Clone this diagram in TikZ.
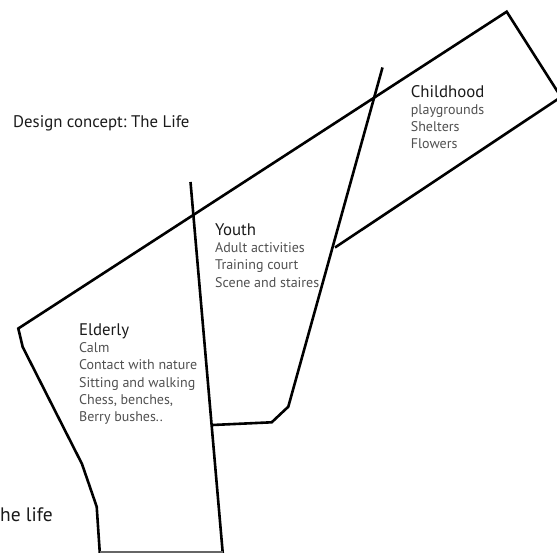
\documentclass[tikz,border=0pt]{standalone}
\usepackage{fontspec}
\setmainfont{PT Sans}
\definecolor{headgray}{HTML}{1A1A1A}
\definecolor{itemgray}{HTML}{505050}
\tikzset{
  zone/.style={line width=2.6pt, line join=miter, black},
  heading/.style={anchor=base west, inner sep=0pt, text=headgray, font=\fontsize{16.8}{17}\selectfont},
  item/.style={anchor=base west, inner sep=0pt, text=itemgray, font=\fontsize{14}{17}\selectfont},
  title/.style={anchor=base west, inner sep=0pt, text=headgray, font=\fontsize{16.8}{17}\selectfont}
}
\begin{document}
\begin{tikzpicture}[x=1pt,y=-1pt]
    \useasboundingbox (0,0) rectangle (557,553);
    % outline of the band and the elderly zone
    \coordinate (E1) at (100,556);
    \coordinate (E2) at (96.7,506.7);
    \coordinate (E3) at (82,464);
    \coordinate (E4) at (22.7,347);
    \coordinate (E5) at (18.3,328.5);
    \coordinate (B1) at (506.7,11.7);
    \coordinate (B2) at (561,97);
    \coordinate (B3) at (335,247.5);
    \begin{scope}
    \clip (0,0) rectangle (557,553);
    \draw[zone] (E1) -- (E2) -- (E3) -- (E4) -- (E5) -- (B1) -- (B2) -- (B3);
    % dividing lines
    \coordinate (V1) at (190.5,182);
    \coordinate (V2) at (223,556);
    \draw[zone] (V1) -- (V2);
    \coordinate (Y1) at (382.5,67.5);
    \coordinate (Y2) at (288.3,406.7);
    \coordinate (Y3) at (271.7,422.3);
    \coordinate (Y4) at (212.5,425);
    \draw[zone] (Y1) -- (Y2) -- (Y3) -- (Y4);
    \coordinate (F1) at (100,552);
    \coordinate (F2) at (223,552);
    \draw[zone, line width=1.2pt, black!60] (F1) -- (F2);
    \end{scope}
    % labels
    \node[title] (concept) at (13,128) {Design concept:\ The Life};
    \node[title, font=\fontsize{19.5}{19.5}\selectfont] (life) at (0,521) {he life};
    \node[heading] (child) at (410.7,98) {Childhood};
    \foreach \txt [count=\i] in {playgrounds, Shelters, Flowers}
        \node[item] (child-\i) at (410.7,98+17*\i) {\txt};
    \node[heading] (youth) at (215,235.5) {Youth};
    \foreach \txt [count=\i] in {Adult activities, Training court, Scene and staires}
        \node[item] (youth-\i) at (215,235.5+17.2*\i) {\txt};
    \node[heading] (elder) at (79,335.7) {Elderly};
    \foreach \txt [count=\i] in {Calm, Contact with nature, Sitting and walking, {Chess, benches,}, Berry bushes..}
        \node[item] (elder-\i) at (79,335.7+17.1*\i) {\txt};
\end{tikzpicture}
\end{document}
